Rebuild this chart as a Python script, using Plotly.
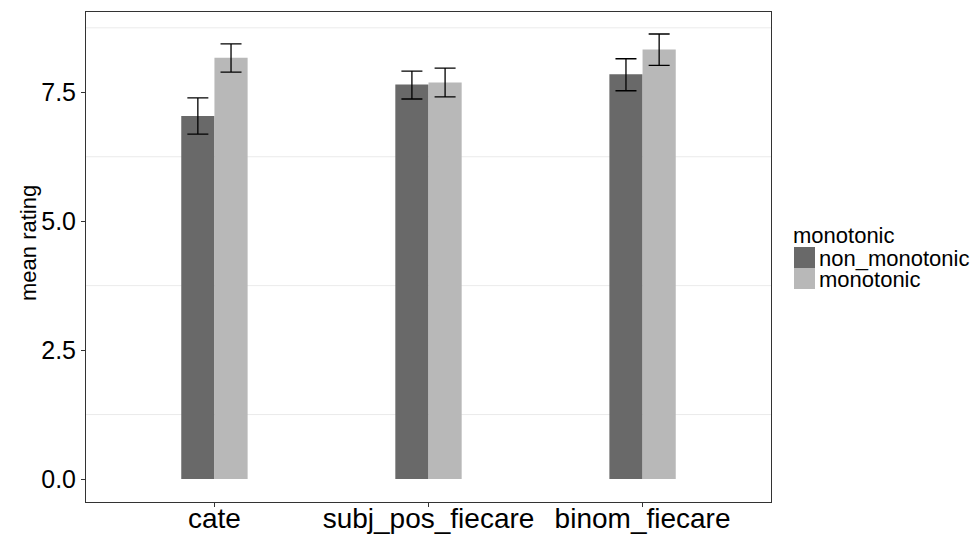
import plotly.graph_objects as go

categories = ["cate", "subj_pos_fiecare", "binom_fiecare"]
non_mono_mean = [7.04, 7.65, 7.85]
non_mono_lo = [6.69, 7.37, 7.53]
non_mono_hi = [7.39, 7.91, 8.15]
mono_mean = [8.17, 7.69, 8.33]
mono_lo = [7.89, 7.41, 8.02]
mono_hi = [8.44, 7.97, 8.63]
series_names = ["non_monotonic", "monotonic"]
series_colors = ["#696969", "#b8b8b8"]
legend_title = "monotonic"
y_title = "mean rating"
y_ticks = [0.0, 2.5, 5.0, 7.5]
y_tick_labels = ["0.0", "2.5", "5.0", "7.5"]
minor_grid = [1.25, 3.75, 6.25, 8.75]

# page offset (body margin) and panel geometry in window pixels
OFF = 8
W, H = 980 - OFF, 535 - OFF
PL, PR, PT, PB = 86 - OFF, 771 - OFF, 12 - OFF, 502 - OFF
PW, PH = PR - PL, PB - PT

def px_x(px):
    return (px - OFF - PL) / PW

def px_y(py):
    return (PB - (py - OFF)) / PH

fig = go.Figure()

def add_series(name, mean, lo, hi, color):
    fig.add_trace(go.Bar(
        x=categories, y=mean, name=name,
        marker=dict(color=color, line=dict(width=0)),
        error_y=dict(type="data", symmetric=False,
                     array=[h - m for h, m in zip(hi, mean)],
                     arrayminus=[m - l for m, l in zip(mean, lo)],
                     color="black", thickness=1.3, width=10.5),
        showlegend=False,
    ))

add_series(series_names[0], non_mono_mean, non_mono_lo, non_mono_hi, series_colors[0])
add_series(series_names[1], mono_mean, mono_lo, mono_hi, series_colors[1])

for g in minor_grid:
    fig.add_shape(type="line", xref="paper", x0=0, x1=1, yref="y", y0=g, y1=g,
                  line=dict(color="#ebebeb", width=1), layer="below")

# y-axis title
fig.add_annotation(text=y_title, xref="paper", yref="paper",
                   x=px_x(28), y=px_y(243), xanchor="center", yanchor="middle",
                   textangle=-90, showarrow=False, font=dict(size=22, color="black"))

# manual legend (ggplot style: stacked square keys)
fig.add_annotation(text=legend_title, xref="paper", yref="paper",
                   x=px_x(791), y=px_y(235), xanchor="left", yanchor="middle",
                   showarrow=False, font=dict(size=22, color="black"))
key_tops = [247, 268]
for name, color, top in zip(series_names, series_colors, key_tops):
    fig.add_shape(type="rect", xref="paper", yref="paper",
                  x0=px_x(794), x1=px_x(815), y0=px_y(top), y1=px_y(top + 21),
                  fillcolor=color, line=dict(width=0))
    fig.add_annotation(text=name, xref="paper", yref="paper",
                       x=px_x(817), y=px_y(top + 11), xanchor="left", yanchor="middle",
                       showarrow=False, font=dict(size=22, color="black"))

fig.update_layout(
    width=W, height=H,
    margin=dict(l=PL, r=W - PR, t=PT, b=H - PB),
    paper_bgcolor="white", plot_bgcolor="white",
    barmode="group", bargap=0.69, bargroupgap=0,
    font=dict(family="Liberation Sans, Arial, sans-serif", color="black"),
    xaxis=dict(range=[-0.6, 2.6], showgrid=False, ticks="outside", ticklen=4,
               tickcolor="#333333", tickfont=dict(size=28, color="black"),
               ticklabelstandoff=-13,
               showline=True, linecolor="#333333", linewidth=1, mirror=True,
               zeroline=False, automargin=False),
    yaxis=dict(range=[-0.446, 9.057], tickvals=y_ticks, ticktext=y_tick_labels,
               showgrid=False, ticks="outside", ticklen=4, tickcolor="#333333",
               tickfont=dict(size=25, color="black"),
               showline=True, linecolor="#333333", linewidth=1, mirror=True,
               zeroline=False, automargin=False),
    showlegend=False,
)

fig.write_html("out.html")
